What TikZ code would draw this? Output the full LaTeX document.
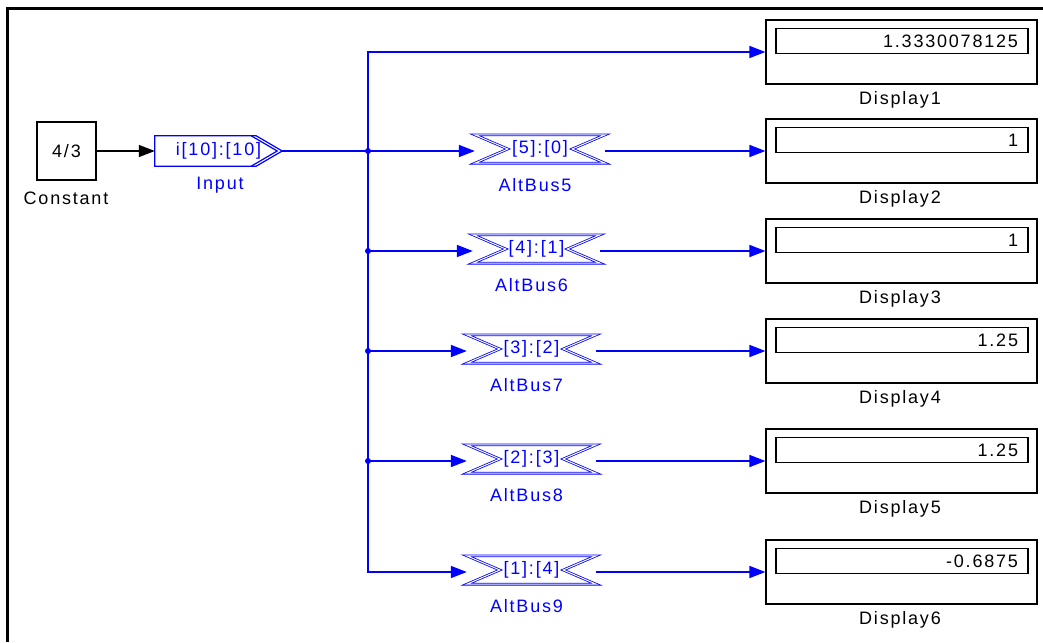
\documentclass[tikz,border=0pt]{standalone}
\usepackage{fontspec}
\setmainfont{Liberation Sans}[LetterSpace=10]
\usetikzlibrary{arrows.meta, calc}

\tikzset{
    wire/.style={draw=blue, line width=1.6pt},
    arr/.style={-{Triangle[length=16pt, width=12pt]}},
    busbox/.style={draw=blue, line width=0.8pt, double=white, double distance=1pt, line join=miter},
    lbl/.style={font=\fontsize{18}{20}\selectfont},
    bluelbl/.style={lbl, text=blue},
}

\begin{document}
\begin{tikzpicture}[x=1pt, y=-1pt]
\useasboundingbox (0,0) rectangle (1043,642);

% Window frame (top and left edge only)
\draw[line width=3pt] (7,642) -- (7,8.5) -- (1043,8.5);

% Constant block
\node[draw, line width=1.2pt, minimum width=59pt, minimum height=58pt, inner sep=0pt, lbl] (const) at (66.5,151) {4/3};
\node[lbl] (constlbl) at (66,198) {Constant};

% Input block (gateway in)
\node[minimum width=127pt, minimum height=30pt, inner sep=0pt, text=blue, lbl] (in) at (218.5,151) {i[10]:[10]};
\draw[blue, line width=1.2pt] (in.north west) -- ([xshift=-26pt]in.north east) -- (in.east) -- ([xshift=-26pt]in.south east) -- (in.south west) -- cycle;
\draw[blue, line width=1.2pt] ([xshift=-31pt]in.north east) -- ([xshift=-5pt]in.east) -- ([xshift=-31pt]in.south east);
\node[bluelbl] (inlbl) at (220,185) {Input};

\draw[line width=1.2pt, arr] (const.east) -- (in.west);

% Branch point
\coordinate (br) at (368,151);
\draw[wire] (in.east) -- (br);

% Displays
\foreach \d/\y/\val in {1/52/1.3330078125, 2/151/1, 3/251/1, 4/351/1.25, 5/461/1.25, 6/572/-0.6875} {
    \node[draw, line width=1.2pt, minimum width=271pt, minimum height=64pt, inner sep=0pt] (disp\d) at (901.5,\y) {};
    \node[draw, line width=1.2pt, minimum width=252pt, minimum height=25pt, text width=232pt, align=right, inner xsep=10pt, inner ysep=0pt, lbl] (dval\d) at (902,\y-11) {\val};
    \node[lbl] (displbl\d) at (900,\y+48) {Display\d};
}

% AltBus blocks
\foreach \i/\d/\y/\xl/\xr/\bits in {5/2/151/475/605/{[5]:[0]}, 6/3/251/473/600/{[4]:[1]}, 7/4/351/467/596/{[3]:[2]}, 8/5/461/467/596/{[2]:[3]}, 9/6/572/467/596/{[1]:[4]}} {
    \node[minimum width=\xr-\xl, minimum height=28pt, inner sep=0pt, text=blue, lbl] (ab\i) at ({(\xl+\xr)/2},\y-2) {\bits};
    \draw[busbox] (ab\i.north west) -- (ab\i.north east) -- ([xshift=-33pt]ab\i.east) -- (ab\i.south east) -- (ab\i.south west) -- ([xshift=33pt]ab\i.west) -- cycle;
    \node[bluelbl] (ablbl\i) at ({(\xl+\xr)/2-5},\y+34) {AltBus\i};
    \draw[wire, arr] (ab\i.east |- 0,\y) -- (disp\d.west |- 0,\y);
}

% Bus wiring
\draw[wire, arr] (br) |- (disp1.west);
\draw[wire, arr] (br) |- (ab9.west |- 0,572);
\foreach \i/\y in {5/151, 6/251, 7/351, 8/461} {
    \draw[wire, arr] (br |- 0,\y) -- (ab\i.west |- 0,\y);
    \fill[blue] (br |- 0,\y) circle (3pt);
}
\end{tikzpicture}
\end{document}
